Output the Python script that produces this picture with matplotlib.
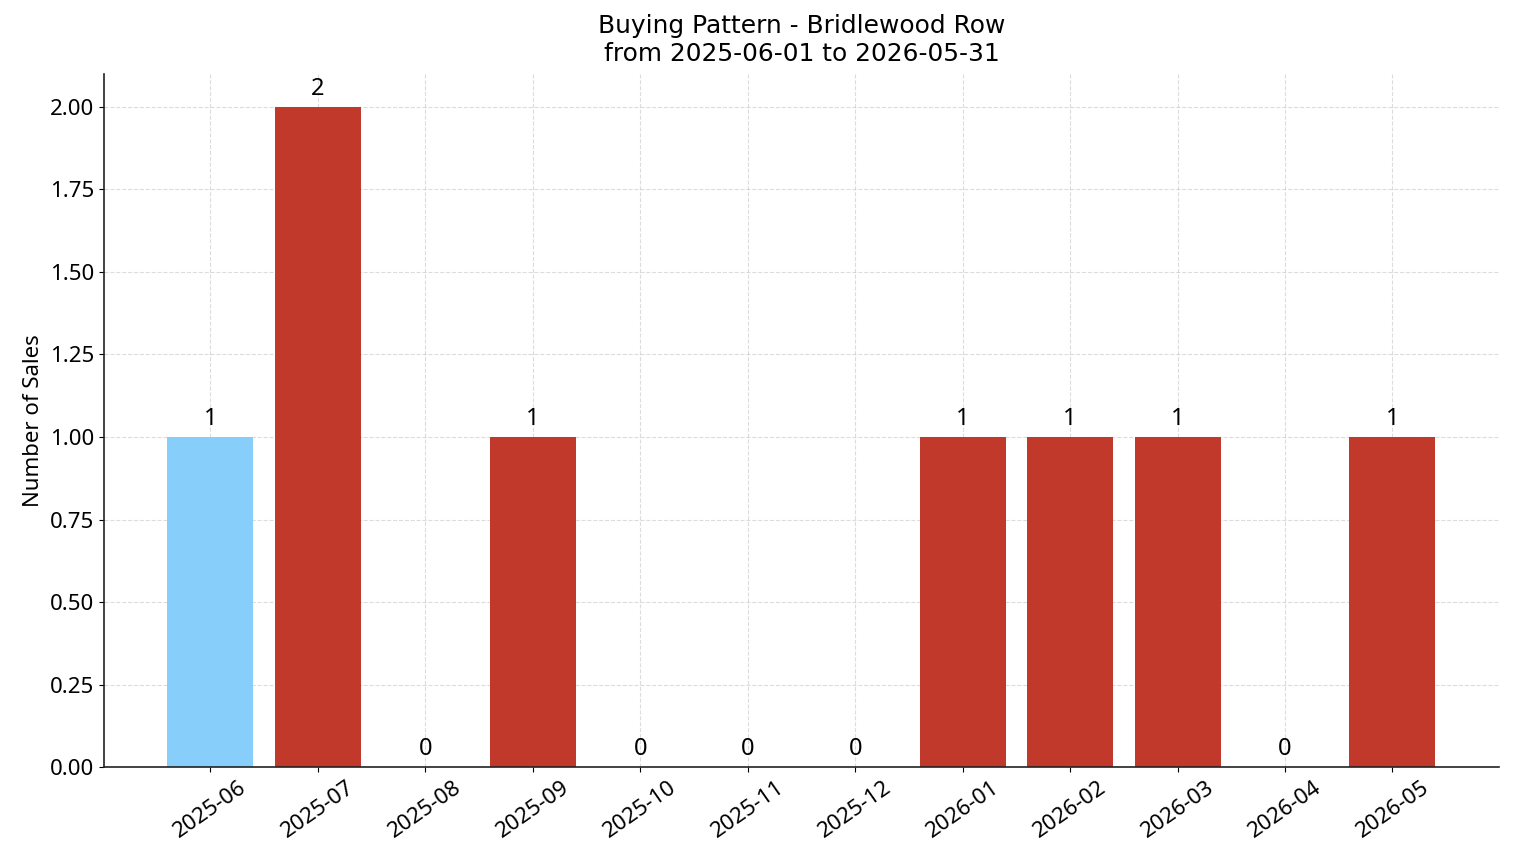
import numpy as np
import matplotlib
matplotlib.use("Agg")
from matplotlib import pyplot as plt

months = ['2025-06', '2025-07', '2025-08', '2025-09', '2025-10', '2025-11',
          '2025-12', '2026-01', '2026-02', '2026-03', '2026-04', '2026-05']
sales = [1, 2, 0, 1, 0, 0, 0, 1, 1, 1, 0, 1]
# first month highlighted in light blue, the rest in red
bar_colors = ['#87CEFA'] + ['#C0392B'] * (len(months) - 1)

plt.rcParams['font.family'] = ['Noto Sans', 'DejaVu Sans']

fig, ax = plt.subplots(figsize=(15.14, 8.63), dpi=100)
fig.subplots_adjust(left=0.0687, right=0.990, top=0.9143, bottom=0.1112)

x = np.arange(len(months))
bars = ax.bar(x, sales, width=0.8, color=bar_colors, zorder=2)

for rect, val in zip(bars, sales):
    ax.annotate(f'{val}', (rect.get_x() + rect.get_width() / 2, rect.get_height()),
                xytext=(0, 4), textcoords='offset points',
                ha='center', va='bottom', fontsize=17)

ax.set_xticks(x)
ax.set_xticklabels(months, rotation=35, ha='center', fontsize=16)
ax.tick_params(axis='y', labelsize=16)
ax.set_ylabel('Number of Sales', fontsize=16)
ax.set_title('Buying Pattern - Bridlewood Row\nfrom 2025-06-01 to 2026-05-31',
             fontsize=17.9, family='DejaVu Sans', pad=9.5)
ax.yaxis.set_major_formatter(matplotlib.ticker.FormatStrFormatter('%.2f'))

ax.grid(True, linestyle='--', alpha=0.5, color='#bbbbbb', zorder=0)
for side in ('top', 'right'):
    ax.spines[side].set_visible(False)
for side in ('left', 'bottom'):
    ax.spines[side].set_color('#222222')
    ax.spines[side].set_linewidth(1.2)

fig.savefig('out.png', dpi=100)
